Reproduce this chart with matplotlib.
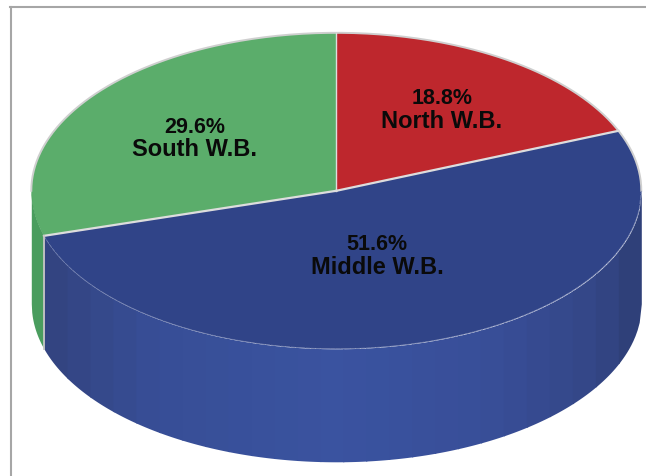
import numpy as np
import matplotlib
matplotlib.use('Agg')
import matplotlib.pyplot as plt

categorias = ['North W.B.', 'Middle W.B.', 'South W.B.']
valores = [18.8, 51.6, 29.6]
cores = ['#BE272D', '#304488', '#5BAD6B']
rotulos = ['18.8%', '51.6%', '29.6%']

# geometria da pizza em pixels
cx, cy, rx, ry = 336.3, 191.8, 305, 158
prof = 113 / ry

fig = plt.figure(figsize=(6.46, 4.77), dpi=100)
ax = fig.add_axes([0, 0, 1, 1])

ax.pie(valores, colors=cores, startangle=90, counterclock=False, radius=1)
ax.set_aspect('auto')
ax.set_xlim((0 - cx) / rx, (646 - cx) / rx)
ax.set_ylim((cy - 477) / ry, cy / ry)
ax.set_axis_off()

# angulos (horario a partir do topo)
fim = np.cumsum(valores) / 100 * 2 * np.pi
x_norte, y_norte = np.sin(fim[0]), np.cos(fim[0])
x_meio, y_meio = np.sin(fim[1]), np.cos(fim[1])


def borda(x):
    return -np.sqrt(np.clip(1 - x ** 2, 0, 1))


# lateral verde
xs = np.linspace(-1, x_meio, 30)
ax.fill_between(xs, borda(xs), borda(xs) - prof, color='#4A9D5E', lw=0, zorder=1)

# lateral azul em faixas
pos_cor = [x_meio, -0.6, 0.0, 0.5, 0.85, 1.0]
r_cor = [0x32, 0x37, 0x3A, 0x38, 0x33, 0x2D]
g_cor = [0x43, 0x4E, 0x53, 0x4E, 0x46, 0x3E]
b_cor = [0x7F, 0x96, 0xA0, 0x98, 0x86, 0x74]
faixas = np.linspace(x_meio, 1, 27)
for a, b in zip(faixas[:-1], faixas[1:]):
    m = (a + b) / 2
    c = (np.interp(m, pos_cor, r_cor) / 255, np.interp(m, pos_cor, g_cor) / 255, np.interp(m, pos_cor, b_cor) / 255)
    xb = np.linspace(a, min(b + 0.004, 1), 12)
    ax.fill_between(xb, borda(xb), borda(xb) - prof, color=c, lw=0, zorder=1)

# contornos
t = np.linspace(-np.pi / 2, np.pi / 2, 300)
ax.plot(np.sin(t), np.cos(t), color='#CFCFCF', lw=1.4, zorder=4)
xl = np.linspace(x_meio, 1, 300)
ax.plot(xl, borda(xl), color='#6F7DAE', lw=0.6, ls=(0, (5, 1)), zorder=4)
ax.plot([0, 0], [0, 1], color='#DDDDDD', lw=1.0, zorder=5)
ax.plot([0, x_norte], [0, y_norte], color='#DDDDDD', lw=1.6, zorder=5)
ax.plot([0, x_meio], [0, y_meio], color='#DDDDDD', lw=1.6, zorder=5)
ax.plot([x_meio, x_meio], [y_meio, y_meio - prof], color='#C4C4C4', lw=1.3, zorder=5)

# moldura
fig.add_artist(plt.Line2D([11 / 646, 11 / 646], [0, 1 - 8 / 477], color='#A6A6A6', lw=1.5))
fig.add_artist(plt.Line2D([10 / 646, 1], [1 - 8 / 477, 1 - 8 / 477], color='#A6A6A6', lw=1.5))

# rotulos
pos_rotulos = [(442, 98.5, 122), (377, 244.5, 268), (195, 127.5, 150)]
for cat, rot, (px, py1, py2) in zip(categorias, rotulos, pos_rotulos):
    fig.text(px / 646, 1 - py1 / 477, rot, ha='center', va='center', fontsize=15.5, fontweight='bold', family='Liberation Sans', color='#0A0A0A')
    fig.text(px / 646, 1 - py2 / 477, cat, ha='center', va='center', fontsize=17, fontweight='bold', family='Liberation Sans', color='#0A0A0A')

plt.savefig('out.png', dpi=100)
